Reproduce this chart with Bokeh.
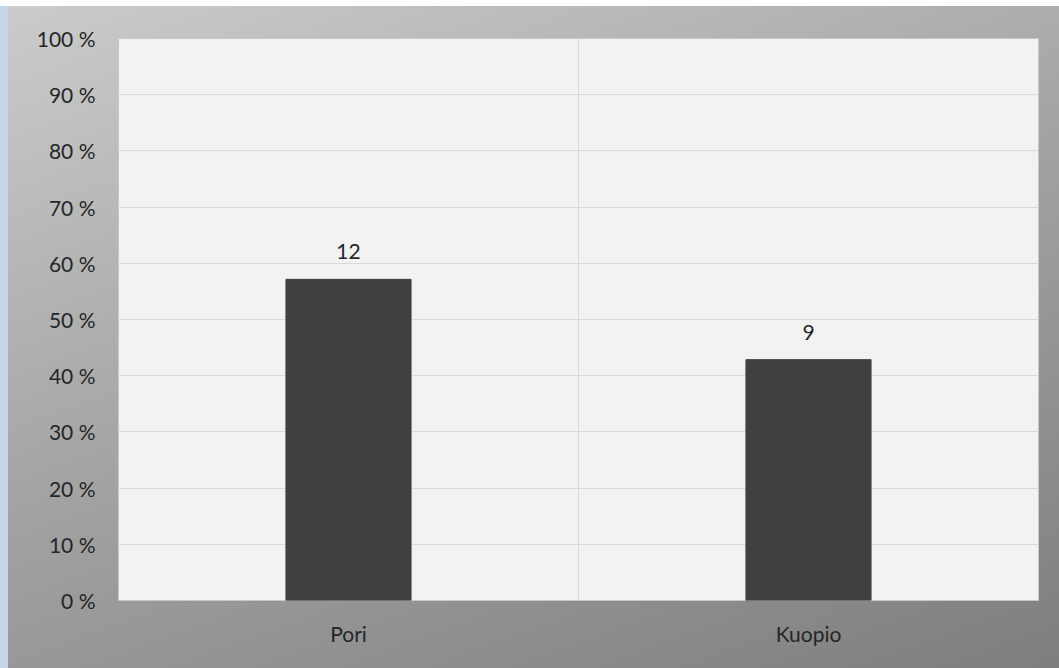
from bokeh.plotting import figure
from bokeh.models import ColumnDataSource, Span, FixedTicker, LabelSet
from bokeh.core.properties import value
from bokeh.embed import file_html
from bokeh.resources import INLINE

cities = ["Pori", "Kuopio"]
counts = [12, 9]
total = sum(counts)
shares = [c / total for c in counts]
y_ticks = [i / 10 for i in range(11)]
y_tick_labels = {t: f"{int(round(t * 100))} %" for t in y_ticks}

src = ColumnDataSource(dict(x=cities, y=shares, label=[str(c) for c in counts]))

p = figure(x_range=cities, y_range=(0, 1), width=1059, height=668,
           output_backend="svg", toolbar_location=None,
           min_border_left=118, min_border_right=21, min_border_top=38, min_border_bottom=68)
p.border_fill_alpha = 0
p.styles = {
    "background": "linear-gradient(to bottom, #ffffff 0, #ffffff 6px, transparent 6px), "
                  "linear-gradient(to right, #c4d6ea 0, #c4d6ea 8px, transparent 8px), "
                  "linear-gradient(160deg, #cccccc 0%, #a2a2a2 50%, #7e7e7e 100%)"
}
p.background_fill_color = "#f2f2f2"
p.outline_line_color = "#c8c8c8"
p.x_range.range_padding = 0

p.vbar(x="x", top="y", width=0.272, source=src, color="#404040")

p.add_layout(LabelSet(x="x", y="y", text="label", source=src, text_align="center",
                      text_baseline="bottom", y_offset=20, text_font=value("Lato"),
                      text_font_size="21px", text_color="#262626"))

p.add_layout(Span(location=1.0, dimension="height", line_color="#d9d9d9", line_width=1))

p.xgrid.visible = False
p.ygrid.grid_line_color = "#d9d9d9"
p.yaxis.ticker = FixedTicker(ticks=y_ticks)
p.yaxis.major_label_overrides = y_tick_labels
for ax in (p.xaxis, p.yaxis):
    ax.axis_line_color = None
    ax.major_tick_line_color = None
    ax.minor_tick_line_color = None
    ax.major_label_text_font = "Lato"
    ax.major_label_text_font_size = "21px"
    ax.major_label_text_color = "#262626"
p.yaxis.major_label_standoff = 17
p.xaxis.major_label_standoff = 14

open("out.html", "w").write(file_html(p, INLINE))
